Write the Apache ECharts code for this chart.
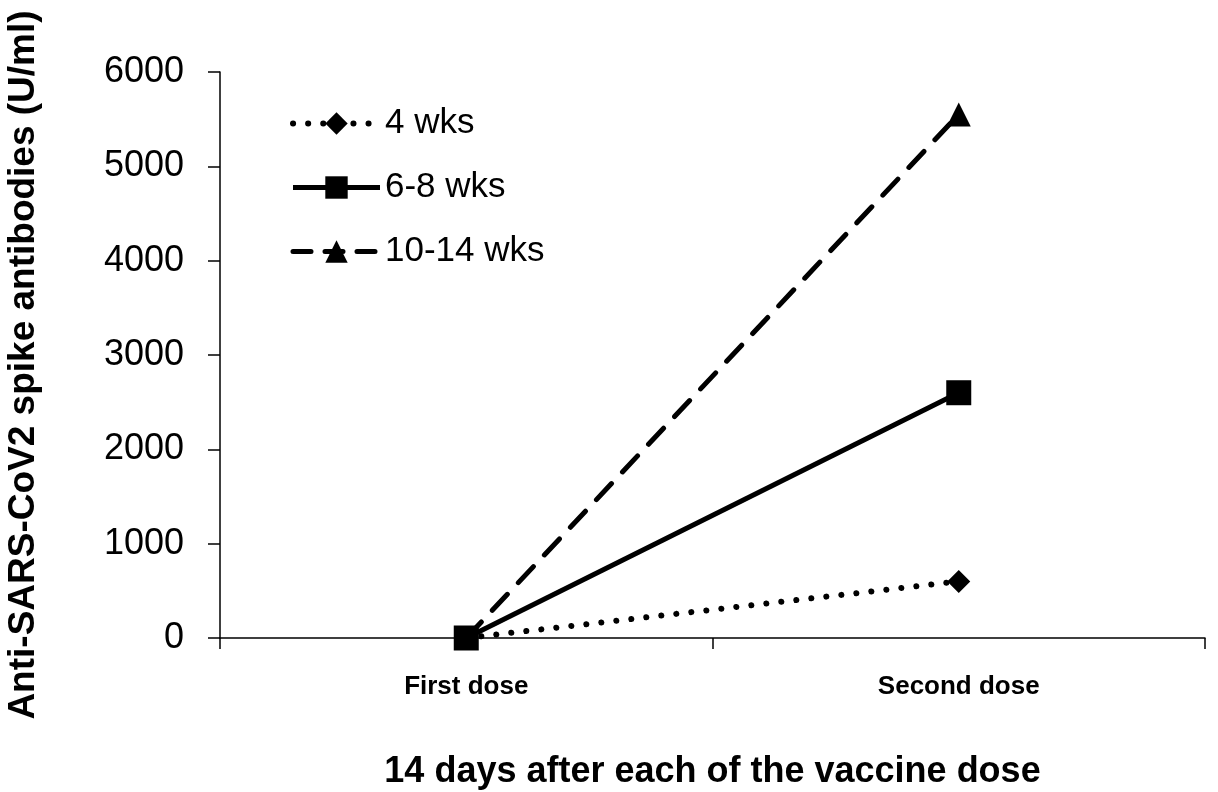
<!DOCTYPE html>
<html><head><meta charset="utf-8">
<script src="https://cdn.jsdelivr.net/npm/echarts@6/dist/echarts.min.js"></script>
<style>html,body{margin:0;padding:0;background:#fff}#c{width:1218px;height:792px}</style>
</head><body><div id="c"></div>
<script>
const categories = ['First dose', 'Second dose'];
const seriesNames = ['4 wks', '6-8 wks', '10-14 wks'];
const wks4 = [0, 600];
const wks6to8 = [0, 2600];
const wks10to14 = [0, 5550];
const yTicks = [0, 1000, 2000, 3000, 4000, 5000, 6000];

const F = 'Arial, "Liberation Sans", sans-serif';
const dotted = {color: '#000', width: 6, type: [0.1, 15], cap: 'round'};
const solid = {color: '#000', width: 5, type: 'solid'};
const dashed = {color: '#000', width: 5, type: [22, 16], cap: 'round'};
const chart = echarts.init(document.getElementById('c'), null, {renderer: 'canvas'});
chart.setOption({
  animation: false,
  backgroundColor: '#fff',
  grid: {left: 220, right: 13, top: 72, bottom: 154, containLabel: false, outerBoundsMode: 'none'},
  legend: {
    left: 285, top: 101, orient: 'vertical', itemWidth: 87, itemHeight: 28, itemGap: 29,
    textStyle: {fontFamily: F, fontSize: 35, color: '#000', lineHeight: 28},
    data: [
      {name: seriesNames[0], lineStyle: dotted},
      {name: seriesNames[1], lineStyle: solid},
      {name: seriesNames[2], lineStyle: {color: '#000', width: 5, type: [18, 14], cap: 'round'}}
    ]
  },
  xAxis: {
    type: 'category', data: categories, boundaryGap: true,
    axisLine: {lineStyle: {color: '#000', width: 1.5}},
    axisTick: {show: true, length: 11, lineStyle: {color: '#000', width: 1.5}},
    axisLabel: {fontFamily: F, fontSize: 26, fontWeight: 'bold', color: '#000', margin: 36},
    name: '14 days after each of the vaccine dose', nameLocation: 'middle', nameGap: 116,
    nameTextStyle: {fontFamily: F, fontSize: 36, fontWeight: 'bold', color: '#000'}
  },
  yAxis: {
    type: 'value', min: yTicks[0], max: yTicks[yTicks.length - 1], interval: 1000,
    axisLine: {show: true, lineStyle: {color: '#000', width: 1.5}},
    axisTick: {show: true, length: 12, lineStyle: {color: '#000', width: 1.5}},
    splitLine: {show: false},
    axisLabel: {fontFamily: F, fontSize: 36, color: '#000', margin: 36, formatter: v => String(v)},
    name: 'Anti-SARS-CoV2 spike antibodies (U/ml)', nameLocation: 'middle', nameGap: 178, nameRotate: 90,
    nameTextStyle: {fontFamily: F, fontSize: 37, fontWeight: 'bold', color: '#000', padding: [0, 20, 0, 0]}
  },
  series: [
    {name: seriesNames[0], type: 'line', data: wks4, symbol: 'diamond', symbolSize: 23,
     itemStyle: {color: '#000'}, lineStyle: dotted},
    {name: seriesNames[1], type: 'line', data: wks6to8, symbol: 'rect', symbolSize: 25,
     itemStyle: {color: '#000'}, lineStyle: solid},
    {name: seriesNames[2], type: 'line', data: wks10to14, symbol: 'triangle', symbolSize: 24,
     itemStyle: {color: '#000'}, lineStyle: dashed}
  ]
});
</script></body></html>
